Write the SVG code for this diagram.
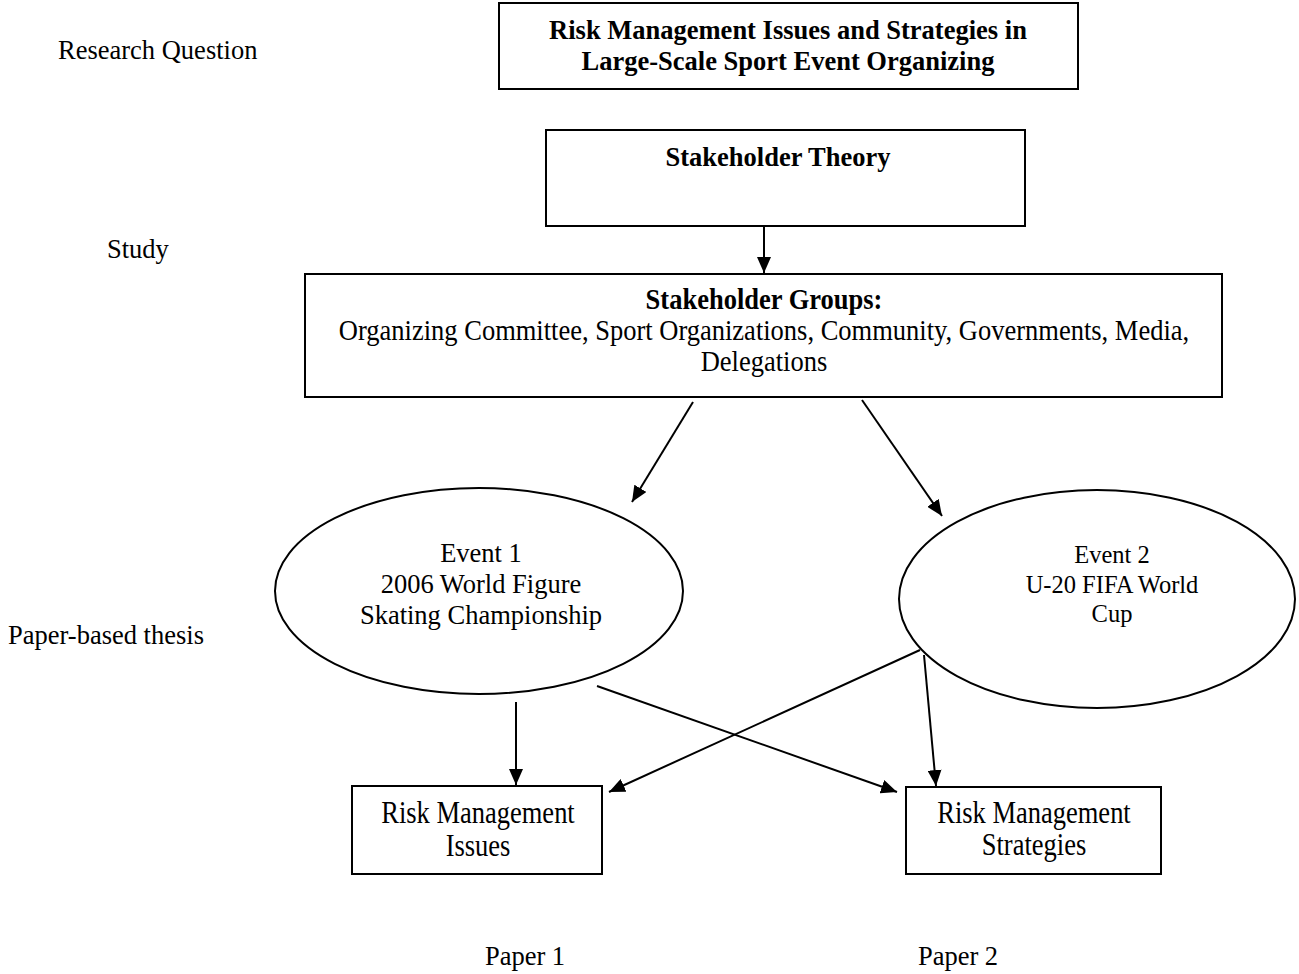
<svg xmlns="http://www.w3.org/2000/svg" width="1299" height="974" viewBox="0 0 1299 974">
<style>
text{font-family:"Liberation Serif","Times New Roman",serif;fill:#000;}
.t{font-size:26.5px;text-anchor:middle;}
.s{font-size:24.5px;}
.b{font-weight:bold;}
.lab{font-size:26.5px;}
.box{fill:#fff;stroke:#000;stroke-width:2;}
.ell{fill:#fff;stroke:#000;stroke-width:2;}
.con line{stroke:#000;stroke-width:2;marker-end:url(#ah);}
</style>
<defs>
<marker id="ah" viewBox="0 0 16 14" refX="16" refY="7" markerWidth="16" markerHeight="14" markerUnits="userSpaceOnUse" orient="auto">
<path d="M0,0 L16,7 L0,14 z" fill="#000"/>
</marker>
</defs>
<rect width="1299" height="974" fill="#fff"/>
<g id="labels">
<text class="lab" x="58" y="59">Research Question</text>
<text class="lab" x="107" y="258">Study</text>
<text class="lab" x="8" y="644">Paper-based thesis</text>
<text class="t" x="525" y="965">Paper 1</text>
<text class="t" x="958" y="965">Paper 2</text>
</g>
<g id="research-question">
<rect class="box" x="499" y="3" width="579" height="86"/>
<text class="t b" x="788" y="39">Risk Management Issues and Strategies in</text>
<text class="t b" x="788" y="70">Large-Scale Sport Event Organizing</text>
</g>
<g id="stakeholder-theory">
<rect class="box" x="546" y="130" width="479" height="96"/>
<text class="t b" x="778" y="166">Stakeholder Theory</text>
</g>
<g id="stakeholder-groups">
<rect class="box" x="305" y="274" width="917" height="123"/>
<text class="t b" transform="translate(764,309) scale(1,1.08)">Stakeholder Groups:</text>
<text class="t" transform="translate(764,340) scale(1,1.08)">Organizing Committee, Sport Organizations, Community, Governments, Media,</text>
<text class="t" transform="translate(764,371) scale(1,1.08)">Delegations</text>
</g>
<g id="event1">
<ellipse class="ell" cx="479" cy="591" rx="204" ry="103"/>
<text class="t" x="481" y="562">Event 1</text>
<text class="t" x="481" y="593">2006 World Figure</text>
<text class="t" x="481" y="624">Skating Championship</text>
</g>
<g id="event2">
<ellipse class="ell" cx="1097" cy="599" rx="198" ry="109"/>
<text class="t s" x="1112" y="563">Event 2</text>
<text class="t s" x="1112" y="593">U-20 FIFA World</text>
<text class="t s" x="1112" y="622">Cup</text>
</g>
<g id="issues">
<rect class="box" x="352" y="786" width="250" height="88"/>
<text class="t" transform="translate(478,823) scale(1,1.18)">Risk Management</text>
<text class="t" transform="translate(478,856) scale(1,1.18)">Issues</text>
</g>
<g id="strategies">
<rect class="box" x="906" y="787" width="255" height="87"/>
<text class="t" transform="translate(1034,823) scale(1,1.18)">Risk Management</text>
<text class="t" transform="translate(1034,855) scale(1,1.18)">Strategies</text>
</g>
<g id="connectors" class="con">
<line x1="764" y1="226" x2="764" y2="273"/>
<line x1="693" y1="402" x2="632" y2="502"/>
<line x1="862" y1="400" x2="942" y2="516"/>
<line x1="516" y1="702" x2="516" y2="785"/>
<line x1="597" y1="686" x2="897" y2="792"/>
<line x1="920" y1="650" x2="609" y2="792"/>
<line x1="924" y1="655" x2="936" y2="786"/>
</g>
</svg>
